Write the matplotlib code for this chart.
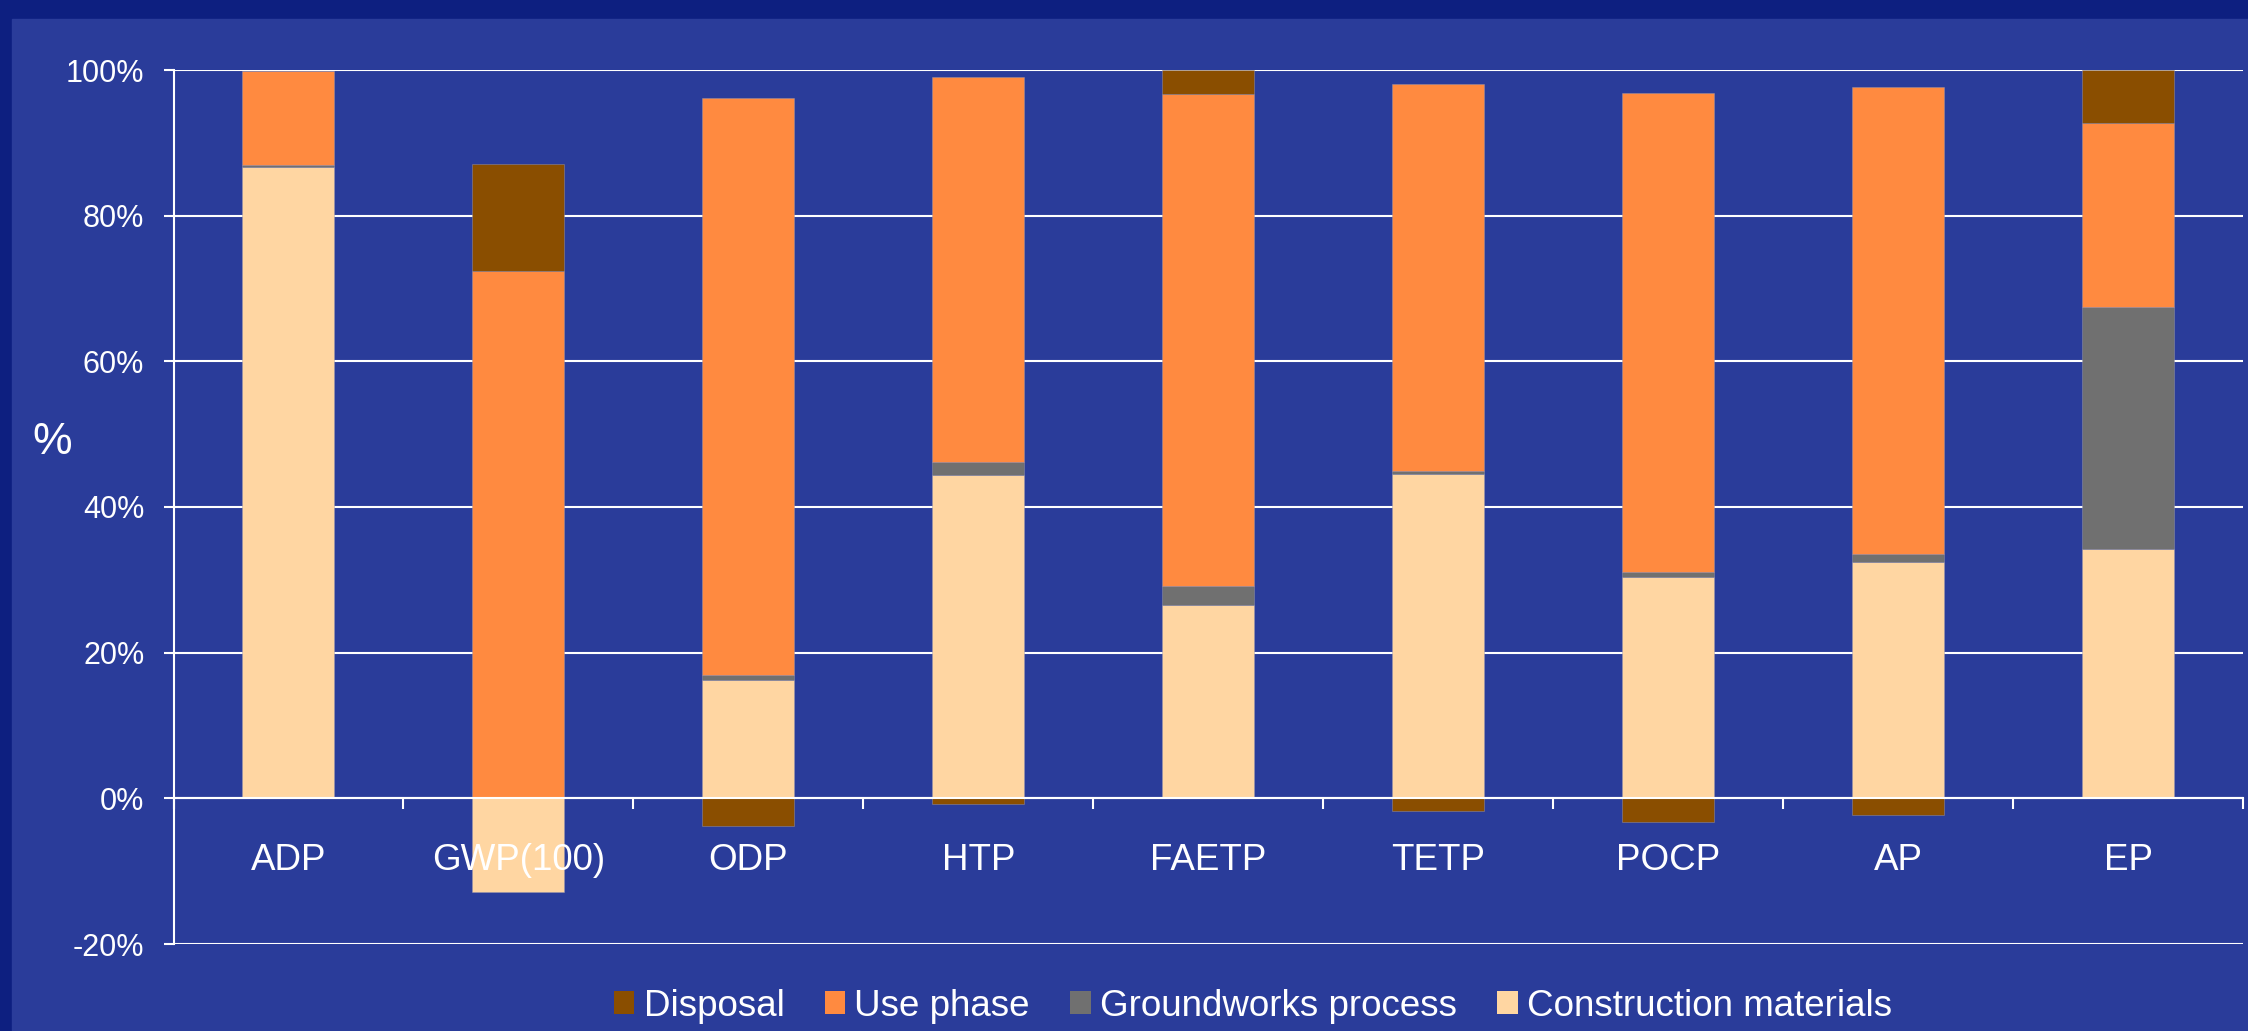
import numpy as np
import matplotlib
matplotlib.use("Agg")
import matplotlib.pyplot as plt
from matplotlib.patches import Patch, Rectangle

plt.rcParams['font.family'] = ['Liberation Sans', 'DejaVu Sans']

# data (%)
categories = ["ADP", "GWP(100)", "ODP", "HTP", "FAETP", "TETP", "POCP", "AP", "EP"]
construction = [86.7, -12.9, 16.3, 44.4, 26.5, 44.5, 30.45, 32.4, 34.2]
groundworks = [0.25, 0.0, 0.7, 1.8, 2.7, 0.5, 0.65, 1.2, 33.3]
use_phase = [12.85, 72.4, 79.2, 52.9, 67.5, 53.1, 65.7, 64.0, 25.2]
disposal = [0.0, 14.7, -3.8, -0.8, 3.3, -1.8, -3.2, -2.3, 7.3]

series = [
    ("Construction materials", construction, "#FFD6A2"),
    ("Groundworks process", groundworks, "#707070"),
    ("Use phase", use_phase, "#FF8A40"),
    ("Disposal", disposal, "#8A4E00"),
]

bg = "#2A3C9A"
border = "#0D1F80"

fig = plt.figure(figsize=(22.48, 10.31), dpi=100)
fig.patch.set_facecolor(border)
# inner panel
fig.patches.append(Rectangle((12 / 2248, 0), 1, 1 - 19 / 1031,
                             transform=fig.transFigure, color=bg, zorder=-10))

ax = fig.add_axes([173.5 / 2248, 87 / 1031, (2243 - 173.5) / 2248, (944 - 70) / 1031])
ax.set_facecolor(bg)

x = np.arange(len(categories))
pos = np.zeros(len(categories))
neg = np.zeros(len(categories))
for name, vals, col in series:
    vals = np.array(vals)
    bottom = np.where(vals >= 0, pos, neg)
    ax.bar(x, vals, width=0.4, bottom=bottom, color=col,
           edgecolor=(0.6, 0.6, 0.7, 0.6), linewidth=0.5, zorder=3)
    pos = pos + np.where(vals >= 0, vals, 0)
    neg = neg + np.where(vals < 0, vals, 0)

ax.set_xlim(-0.5, len(categories) - 0.5)
ax.set_ylim(-20, 100)
ax.set_yticks(np.arange(-20, 101, 20))
ax.set_yticklabels([f"{v}%" for v in range(-20, 101, 20)])
ax.yaxis.grid(True, color="white", linewidth=1.5, zorder=1)
ax.set_axisbelow(True)

for s in ["top", "right"]:
    ax.spines[s].set_visible(False)
ax.spines["left"].set_color("white")
ax.spines["left"].set_linewidth(1.5)
ax.spines["bottom"].set_position(("data", 0))
ax.spines["bottom"].set_color("white")
ax.spines["bottom"].set_linewidth(1.5)
ax.spines["bottom"].set_zorder(4)

# category boundaries as ticks, names at centers (drawn above the bars)
ax.set_xticks(np.arange(-0.5, len(categories), 1.0))
ax.set_xticklabels([])
ax.set_xticks(x, minor=True)
ax.set_xticklabels(categories, minor=True)
ax.xaxis.set_zorder(5)
ax.tick_params(axis="x", which="major", direction="out", length=8, width=1.5, colors="white")
ax.tick_params(axis="x", which="minor", length=0, pad=32, labelsize=26.5, labelcolor="white")
ax.tick_params(axis="y", direction="out", length=7, width=1.5, colors="white",
               labelsize=22, pad=14)

fig.text(52 / 2248, 1 - 442 / 1031, "%", color="white", fontsize=32,
         ha="center", va="center")

handles = [Patch(facecolor=c, label=n) for n, _, c in series[::-1]]
leg = fig.legend(handles=handles, loc="center", bbox_to_anchor=(1253 / 2248, 1 - 1006 / 1031),
                 ncol=4, frameon=False, fontsize=26.5, labelcolor="white",
                 handlelength=0.55, handleheight=0.55, handletextpad=0.25,
                 columnspacing=1.1)

fig.savefig("out.png", dpi=100, facecolor=fig.get_facecolor())
